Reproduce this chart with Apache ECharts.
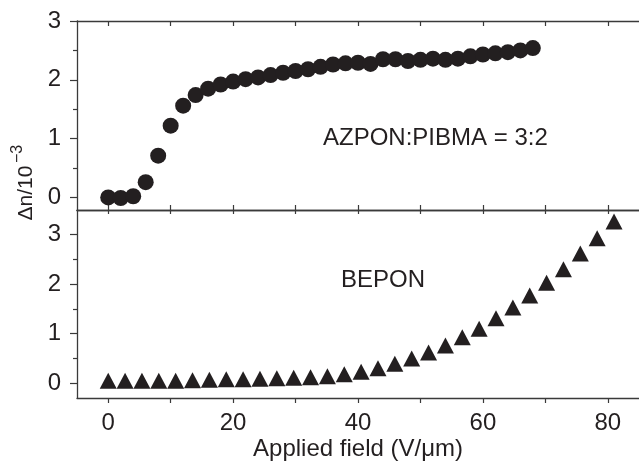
<!DOCTYPE html>
<html>
<head>
<meta charset="utf-8">
<script src="https://cdn.jsdelivr.net/npm/echarts@6/dist/echarts.min.js"></script>
<style>html,body{margin:0;padding:0;background:#fff;}#c{width:639px;height:463px;}</style>
</head>
<body>
<div id="c"></div>
<script>
// ---- Data ----
var azponX = [0,2,4,6,8,10,12,14,16,18,20,22,24,26,28,30,32,34,36,38,40,42,44,46,48,50,52,54,56,58,60,62,64,66,68];
var azponY = [0,-0.01,0.02,0.26,0.71,1.22,1.56,1.74,1.85,1.92,1.97,2.01,2.04,2.08,2.12,2.15,2.18,2.22,2.26,2.28,2.29,2.27,2.35,2.35,2.32,2.34,2.36,2.34,2.36,2.40,2.43,2.45,2.47,2.50,2.54];
var beponX = [0,2.7,5.4,8.1,10.8,13.5,16.2,18.9,21.6,24.3,27,29.7,32.4,35.1,37.8,40.5,43.2,45.9,48.6,51.3,54,56.7,59.4,62.1,64.8,67.5,70.2,72.9,75.6,78.3,81];
var beponY = [0.05,0.05,0.05,0.05,0.05,0.06,0.07,0.08,0.08,0.09,0.10,0.11,0.12,0.14,0.18,0.23,0.30,0.39,0.50,0.62,0.76,0.93,1.10,1.31,1.53,1.77,2.03,2.30,2.62,2.93,3.27];
var xTicks = [0,10,20,30,40,50,60,70,80];
var xLabels = [0,20,40,60,80];
var yTicks = [0,1,2,3];
var yMinorTicks = [0.5,1.5,2.5];
var xName = 'Applied field (V/μm)';
var yName = 'Δn/10';
var yNameExp = '−3';
var labelTop = 'AZPON:PIBMA = 3:2';
var labelBottom = 'BEPON';

function pairs(xs, ys){ return xs.map(function(x,i){ return [x, ys[i]]; }); }

var FONT = 'Liberation Sans';
var INK = '#231f20';
var LINE = '#3a3a3a';

function xAx(grid, pos, opts){
  return Object.assign({
    type:'value', gridIndex:grid, position:pos, min:-5, max:85,
    axisLine:{show:true, onZero:false, lineStyle:{color:LINE, width:1.3}},
    axisTick:{show:true, inside:true, length:5, customValues:xTicks, lineStyle:{color:LINE, width:1.2}},
    axisLabel:{show:false},
    splitLine:{show:false}
  }, opts||{});
}
function yAx(grid, min, max, minor){
  if (minor) {
    return {type:'value', gridIndex:grid, position:'left', min:min, max:max,
      axisLine:{show:false, onZero:false},
      axisTick:{show:true, inside:false, length:4, customValues:yMinorTicks, lineStyle:{color:LINE, width:1.2}},
      axisLabel:{show:false}, splitLine:{show:false}};
  }
  return {type:'value', gridIndex:grid, position:'left', min:min, max:max,
    axisLine:{show:true, onZero:false, lineStyle:{color:LINE, width:1.3}},
    axisTick:{show:true, inside:false, length:7, customValues:yTicks, lineStyle:{color:LINE, width:1.2}},
    axisLabel:{show:true, customValues:yTicks, margin:16, color:INK, fontSize:24, fontFamily:FONT},
    splitLine:{show:false}};
}

var chart = echarts.init(document.getElementById('c'), null, {renderer:'canvas'});
chart.setOption({
  animation:false,
  backgroundColor:'#fff',
  grid:[
    {left:77, right:0, top:21, height:189, outerBoundsMode:'none', containLabel:false},
    {left:77, right:0, top:210, height:188, outerBoundsMode:'none', containLabel:false}
  ],
  xAxis:[
    xAx(0,'bottom'),
    xAx(0,'top'),
    xAx(1,'top', {axisTick:{show:true, inside:true, length:4, customValues:xTicks, lineStyle:{color:LINE, width:1.2}}}),
    xAx(1,'bottom', {
      axisTick:{show:true, inside:false, length:5, customValues:xTicks, lineStyle:{color:LINE, width:1.2}},
      axisLabel:{show:true, customValues:xLabels, margin:13, color:INK, fontSize:24, fontFamily:FONT},
      name:xName, nameLocation:'middle', nameGap:39,
      nameTextStyle:{color:INK, fontSize:24, fontFamily:FONT}
    })
  ],
  yAxis:[
    yAx(0,-0.214,3,false),
    yAx(0,-0.214,3,true),
    yAx(1,-0.3,3.5,false),
    yAx(1,-0.3,3.5,true)
  ],
  series:[
    {type:'scatter', xAxisIndex:0, yAxisIndex:0, data:pairs(azponX, azponY),
     symbol:'circle', symbolSize:16, itemStyle:{color:INK, opacity:1}, clip:false},
    {type:'scatter', xAxisIndex:3, yAxisIndex:2, data:pairs(beponX, beponY),
     symbol:'triangle', symbolSize:[17,16], itemStyle:{color:INK, opacity:1}, clip:false}
  ],
  graphic:[
    {type:'text', left:323, top:126, style:{text:labelTop, fill:INK, font:'24px "Liberation Sans"'}},
    {type:'text', left:341, top:268, style:{text:labelBottom, fill:INK, font:'24px "Liberation Sans"'}},
    {type:'text', x:26, y:193, rotation:Math.PI/2,
     style:{text:yName, fill:INK, font:'21px "Liberation Sans"', textAlign:'center', textVerticalAlign:'middle'}},
    {type:'text', x:18, y:154, rotation:Math.PI/2,
     style:{text:yNameExp, fill:INK, font:'16px "Liberation Sans"', textAlign:'center', textVerticalAlign:'middle'}}
  ]
});
</script>
</body>
</html>
